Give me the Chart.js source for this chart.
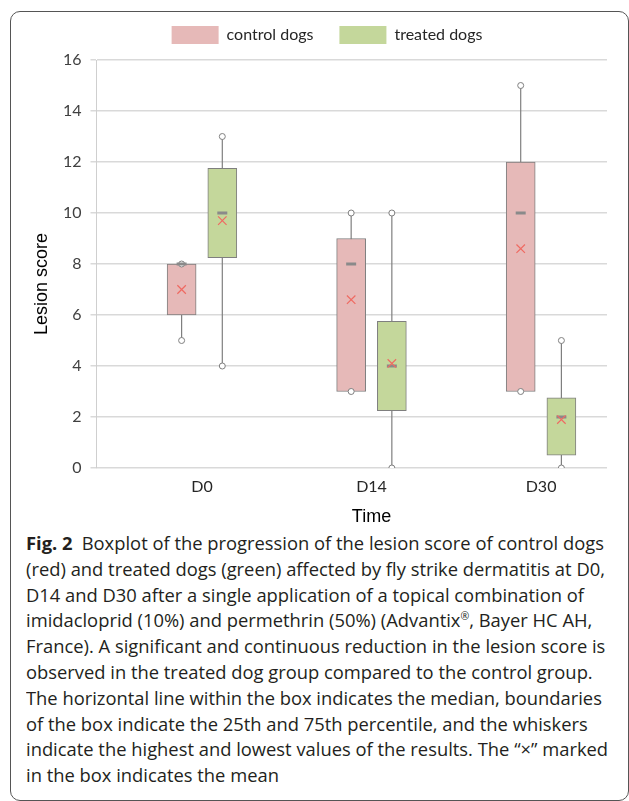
<!DOCTYPE html>
<html>
<head>
<meta charset="utf-8">
<script src="https://cdn.jsdelivr.net/npm/chart.js@4.4.1/dist/chart.umd.min.js"></script>
<style>
html, body { margin: 0; padding: 0; background: #fff; }
body { width: 629px; height: 801px; position: relative; overflow: hidden; }
#frame { position: absolute; left: 10px; top: 11px; width: 619px; height: 790px; box-sizing: border-box; border: 1.5px solid #555; border-radius: 10px; }
#chartBox { position: absolute; left: 0; top: 0; width: 629px; height: 530px; }
#caption { position: absolute; left: 26px; top: 531px; font-family: "Open Sans"; font-size: 17.5px; line-height: 25.8px; color: #231f20; white-space: nowrap; transform-origin: 0 0; }
#caption sup { font-size: 10px; line-height: 0; }
</style>
</head>
<body>
<div id="frame"></div>
<div id="chartBox"><canvas id="chartLesao"></canvas></div>
<div id="caption">
  <div><span id="firstLine"><b>Fig. 2</b>&ensp;Boxplot of the progression of the lesion score of control dogs</span></div>
  <div>(red) and treated dogs (green) affected by fly strike dermatitis at D0,</div>
  <div>D14 and D30 after a single application of a topical combination of</div>
  <div>imidacloprid (10%) and permethrin (50%) (Advantix<sup>®</sup>, Bayer HC AH,</div>
  <div>France). A significant and continuous reduction in the lesion score is</div>
  <div>observed in the treated dog group compared to the control group.</div>
  <div>The horizontal line within the box indicates the median, boundaries</div>
  <div>of the box indicate the 25th and 75th percentile, and the whiskers</div>
  <div>indicate the highest and lowest values of the results. The “×” marked</div>
  <div>in the box indicates the mean</div>
</div>
<script>
var times = ['D0', 'D14', 'D30'];
var groups = ['control dogs', 'treated dogs'];
var yTicks = [0, 2, 4, 6, 8, 10, 12, 14, 16];

var controlMin = [5, 3, 3];
var controlQ1 = [6, 3, 3];
var controlMedian = [8, 8, 10];
var controlQ3 = [8, 9, 12];
var controlMax = [8, 10, 15];
var controlMean = [7, 6.6, 8.6];

var treatedMin = [4, 0, 0];
var treatedQ1 = [8.25, 2.25, 0.5];
var treatedMedian = [10, 4, 2];
var treatedQ3 = [11.75, 5.75, 2.75];
var treatedMax = [13, 10, 5];
var treatedMean = [9.7, 4.1, 1.9];

var groupColors = ['#e6b9b8', '#c4d79b'];
var groupOffset = 0.12;

function pointsAt(values, side) {
  return values.map(function (v, i) { return {x: i + side * groupOffset, y: v}; });
}

function boxesAt(low, high, side) {
  return low.map(function (v, i) { return {x: i + side * groupOffset, y: [v, high[i]]}; });
}

function whiskersAt(low, high, side) {
  var pts = [];
  low.forEach(function (v, i) {
    var x = i + side * groupOffset;
    pts.push({x: x, y: v}, {x: x, y: high[i]}, {x: x, y: null});
  });
  return pts;
}

function capsAt(low, high, side) {
  var pts = [];
  low.forEach(function (v, i) {
    var x = i + side * groupOffset;
    pts.push({x: x, y: v}, {x: x, y: high[i]});
  });
  return pts;
}

function boxSet(label, low, high, side, color) {
  return {
    type: 'bar', label: label, data: boxesAt(low, high, side),
    backgroundColor: color, borderColor: '#7f7f7f', borderWidth: 1,
    borderSkipped: false, barThickness: 29, grouped: false, order: 3
  };
}

function whiskerSet(low, high, side) {
  return {
    type: 'line', data: whiskersAt(low, high, side), borderColor: '#7f7f7f',
    borderWidth: 1.2, pointRadius: 0, spanGaps: false, order: 4
  };
}

function capSet(low, high, side) {
  return {
    type: 'line', data: capsAt(low, high, side), showLine: false,
    pointRadius: 3, pointBackgroundColor: '#fff', pointBorderColor: '#7f7f7f',
    pointBorderWidth: 1, order: 2
  };
}

function medianSet(values, side) {
  return {
    type: 'line', data: pointsAt(values, side), showLine: false,
    pointStyle: 'line', pointRadius: 5, pointBorderWidth: 3,
    pointBorderColor: '#8a8a8a', order: 1
  };
}

function meanSet(values, side) {
  return {
    type: 'line', data: pointsAt(values, side), showLine: false,
    pointStyle: 'crossRot', pointRadius: 6, pointBorderWidth: 1.2,
    pointBorderColor: '#ef6a62', order: 0
  };
}

var axisTitles = {
  id: 'axisTitles',
  afterDraw: function (chart) {
    var ctx = chart.ctx;
    ctx.save();
    ctx.fillStyle = '#000';
    ctx.font = '18px "Liberation Sans"';
    ctx.textAlign = 'center';
    ctx.textBaseline = 'middle';
    ctx.fillText('Time', chart.scales.x.getPixelForValue(1), 517);
    ctx.translate(42, 284);
    ctx.rotate(-Math.PI / 2);
    ctx.fillText('Lesion score', 0, 0);
    ctx.restore();
  }
};

Chart.defaults.font.family = 'Lato';

var ctxLesao = document.getElementById('chartLesao').getContext('2d');

var configLesao = {
  type: 'bar',
  data: {
    datasets: [
      boxSet(groups[0], controlQ1, controlQ3, -1, groupColors[0]),
      boxSet(groups[1], treatedQ1, treatedQ3, 1, groupColors[1]),
      whiskerSet(controlMin, controlMax, -1),
      whiskerSet(treatedMin, treatedMax, 1),
      capSet(controlMin, controlMax, -1),
      capSet(treatedMin, treatedMax, 1),
      medianSet(controlMedian, -1),
      medianSet(treatedMedian, 1),
      meanSet(controlMean, -1),
      meanSet(treatedMean, 1)
    ]
  },
  options: {
    responsive: true,
    maintainAspectRatio: false,
    animation: false,
    events: [],
    layout: { padding: { top: 0, left: 47, right: 22, bottom: 0 } },
    plugins: {
      tooltip: { enabled: false },
      subtitle: { display: true, text: ' ', font: { size: 5 }, padding: 0, weight: 500 },
      legend: {
        position: 'top',
        labels: {
          boxWidth: 47,
          boxHeight: 18,
          padding: 26,
          color: '#262626',
          font: { size: 16 },
          filter: function (item) { return item.datasetIndex < 2; },
          generateLabels: function (chart) {
            var items = Chart.defaults.plugins.legend.labels.generateLabels(chart);
            items.forEach(function (it) { it.lineWidth = 0; });
            return items;
          }
        }
      }
    },
    scales: {
      x: {
        type: 'linear',
        min: -0.622,
        max: 2.389,
        offset: false,
        grid: { display: false, drawTicks: false, offset: false },
        border: { display: false },
        afterBuildTicks: function (scale) {
          scale.ticks = times.map(function (t, i) { return {value: i}; });
        },
        afterFit: function (scale) { scale.height = 62; },
        ticks: {
          padding: 9,
          color: '#262626',
          font: { size: 16 },
          callback: function (value) { return times[value]; }
        }
      },
      y: {
        min: 0,
        max: 16,
        afterBuildTicks: function (scale) {
          scale.ticks = yTicks.map(function (v) { return {value: v}; });
        },
        afterFit: function (scale) { scale.width = 49.5; },
        grid: { color: '#d9d9d9', lineWidth: 1.5, tickLength: 6 },
        border: { display: true, color: '#cfcfcf', width: 1 },
        ticks: { padding: 9, color: '#404040', font: { size: 16 } }
      }
    }
  },
  plugins: [axisTitles]
};

var chartLesao = new Chart(ctxLesao, configLesao);

function fitCaption() {
  var cap = document.getElementById('caption');
  cap.style.transform = 'none';
  var w = document.getElementById('firstLine').getBoundingClientRect().width;
  cap.style.transform = 'scaleX(' + (578 / w) + ')';
}
fitCaption();
if (document.fonts) document.fonts.ready.then(fitCaption);
</script>
</body>
</html>
